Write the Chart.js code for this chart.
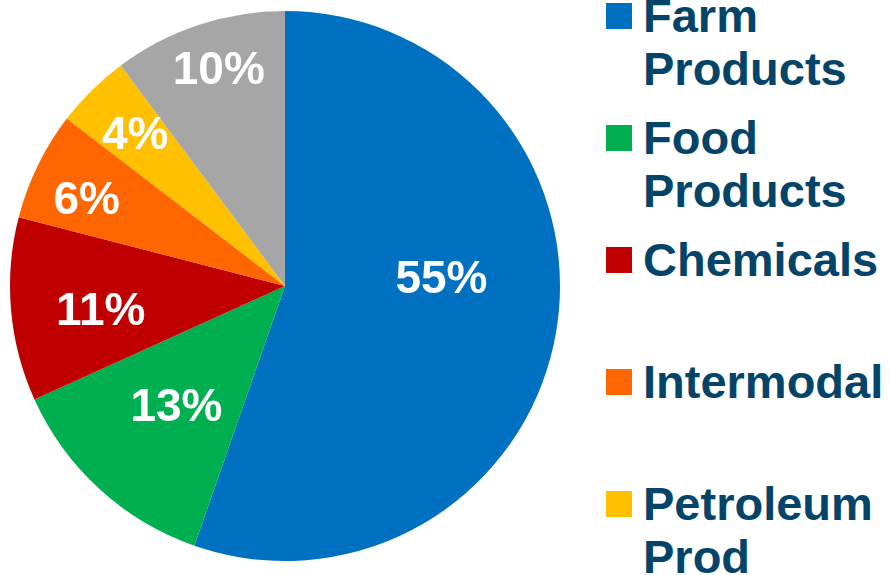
<!DOCTYPE html>
<html>
<head>
<meta charset="utf-8">
<script src="https://cdn.jsdelivr.net/npm/chart.js@4.4.1/dist/chart.umd.min.js"></script>
<style>
  html, body { margin: 0; padding: 0; background: #ffffff; overflow: hidden; width: 889px; height: 575px; }
  #wrap { position: absolute; left: 0; top: 0; width: 570px; height: 572px; }
  #legend { position: absolute; left: 606px; top: 0; width: 283px; height: 575px; overflow: hidden;
            font-family: "Liberation Sans", Arial, sans-serif; font-weight: bold; font-size: 47px;
            line-height: 53px; color: #044468; }
  .item { position: absolute; left: 0; width: 283px; height: 122px; }
  .sw { position: absolute; left: 0; top: 14px; width: 26px; height: 26px; }
  .tx { position: absolute; left: 37px; top: 0; width: 246px; }
</style>
</head>
<body>
<div id="wrap"><canvas id="c"></canvas></div>
<div id="legend"></div>
<script>
const categories = ["Farm Products", "Food Products", "Chemicals", "Intermodal", "Petroleum Prod", "Other"];
const shares = [55.4, 12.9, 10.8, 6.4, 4.4, 10.2];
const shareLabels = ["55%", "13%", "11%", "6%", "4%", "10%"];
const sliceColors = ["#0070C0", "#00B050", "#C00000", "#FF6600", "#FFC000", "#A6A6A6"];

const labelPlugin = {
  id: 'sliceLabels',
  afterDatasetsDraw(chart, args, opts) {
    const ctx = chart.ctx;
    const meta = chart.getDatasetMeta(0);
    const size = opts.size;
    ctx.save();
    ctx.font = 'bold ' + size + 'px "Liberation Sans", Arial, sans-serif';
    ctx.fillStyle = '#ffffff';
    ctx.textAlign = 'center';
    ctx.textBaseline = 'alphabetic';
    meta.data.forEach((arc, i) => {
      const p = arc.getProps(['x', 'y', 'startAngle', 'endAngle', 'outerRadius'], true);
      const a = p.startAngle + (p.endAngle - p.startAngle) * opts.along[i];
      const r = p.outerRadius * opts.radius[i];
      const x = p.x + Math.cos(a) * r;
      const y = p.y + Math.sin(a) * r + size * 0.716 / 2;
      ctx.fillText(shareLabels[i], x, y);
    });
    ctx.restore();
  }
};

new Chart(document.getElementById('c'), {
  type: 'pie',
  data: {
    labels: categories,
    datasets: [{ data: shares, backgroundColor: sliceColors, borderWidth: 0 }]
  },
  options: {
    responsive: true,
    maintainAspectRatio: false,
    animation: false,
    layout: { padding: 10 },
    plugins: {
      legend: { display: false },
      tooltip: { enabled: false },
      sliceLabels: {
        size: 46,
        along: [0.435, 0.5, 0.45, 0.42, 0.52, 0.54],
        radius: [0.57, 0.585, 0.675, 0.79, 0.78, 0.83]
      }
    }
  },
  plugins: [labelPlugin]
});

const legend = document.getElementById('legend');
categories.forEach((name, i) => {
  const item = document.createElement('div');
  item.className = 'item';
  item.style.top = (-11 + 122 * i) + 'px';
  const sw = document.createElement('div');
  sw.className = 'sw';
  sw.style.background = sliceColors[i];
  const tx = document.createElement('div');
  tx.className = 'tx';
  tx.textContent = name;
  item.appendChild(sw);
  item.appendChild(tx);
  legend.appendChild(item);
});
</script>
</body>
</html>
